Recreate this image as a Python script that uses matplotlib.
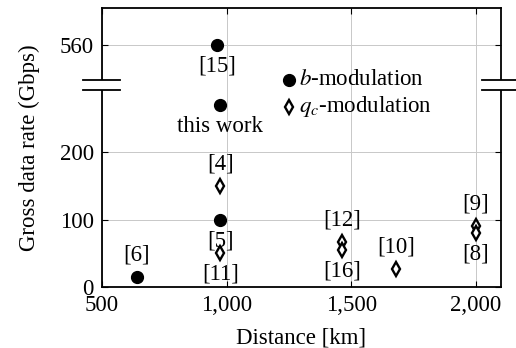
import numpy as np
import matplotlib.pyplot as plt

plt.rcParams['font.family'] = ['Liberation Serif', 'DejaVu Serif']
plt.rcParams['mathtext.fontset'] = 'stix'

# data
b_dist = [960, 972, 975, 640]
b_rate = [560, 270, 100, 15]
b_labels = ['[15]', 'this work', '[5]', '[6]']
b_side = ['below', 'below', 'below', 'above']

q_dist = [975, 975, 1463, 1463, 1680, 2000, 2000]
q_rate = [150, 50, 67, 55, 26, 91, 80]
q_labels = ['[4]', '[11]', '[12]', '[16]', '[10]', '[9]', '[8]']
q_side = ['above', 'below', 'above', 'below', 'above', 'above', 'below']

x_ticks = [500, 1000, 1500, 2000]
y_ticks = [0, 100, 200, 560]
y_break = 300


# def
def to_axis(v):
    # values above the break are drawn shifted down onto the short axis
    v = np.asarray(v, dtype=float)
    return np.where(v > y_break, v - 200, v)


fig = plt.figure(figsize=(5.16, 3.48), dpi=100)
ax = fig.add_axes([0.1977, 0.1761, 0.7733, 0.8009])

ax.plot(b_dist, to_axis(b_rate), 'o', color='black', markersize=8.5, zorder=3)
ax.plot(q_dist, to_axis(q_rate), 'd', color='black', markerfacecolor='white',
        markersize=6.8, markeredgewidth=1.7, zorder=3)

fs = 16.5
for dist, rate, lab, side in list(zip(b_dist, b_rate, b_labels, b_side)) + \
        list(zip(q_dist, q_rate, q_labels, q_side)):
    dy = 22 if side == 'above' else -21
    ax.annotate(lab, (dist, float(to_axis(rate))), xytext=(0, dy),
                textcoords='offset pixels', ha='center', va='center',
                fontsize=fs, zorder=4)

# legend drawn by hand
ax.plot([1248], [308], 'o', color='black', markersize=8.5)
ax.plot([1248], [268], 'd', color='black', markerfacecolor='white',
        markersize=6.8, markeredgewidth=1.7)
ax.text(1290, 308, r'$b$-modulation', fontsize=fs, va='center')
ax.text(1290, 268, r'$q_c$-modulation', fontsize=fs, va='center')

ax.set_xlim(500, 2100)
ax.set_ylim(0, 415)
ax.set_xticks(x_ticks)
ax.set_xticklabels(['{:,}'.format(t) for t in x_ticks])
ax.set_yticks(to_axis(y_ticks))
ax.set_yticklabels([str(t) for t in y_ticks])
ax.tick_params(direction='in', length=4, width=0.8, labelsize=fs,
               top=True, right=True, pad=6)
ax.grid(True, color='#c8c8c8', linewidth=0.7)
ax.set_axisbelow(True)
for s in ax.spines.values():
    s.set_linewidth(1.3)

ax.set_xlabel('Distance [km]', fontsize=fs, labelpad=8)
ax.set_ylabel('Gross data rate (Gbps)', fontsize=fs, labelpad=14)

# axis break marks
lo, hi = 293.5, 307.5
for x0, x1, xs in [(424, 572, 500), (2024, 2170, 2100)]:
    ax.plot([xs, xs], [lo, hi], color='white', linewidth=3, clip_on=False,
            zorder=5, solid_capstyle='butt')
    for yb in (lo, hi):
        ax.plot([x0, x1], [yb, yb], color='black', linewidth=1.3,
                clip_on=False, zorder=6)

fig.savefig('out.png', dpi=100)
